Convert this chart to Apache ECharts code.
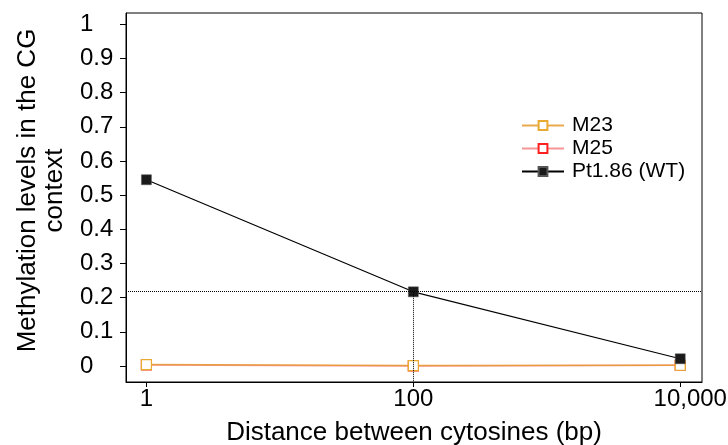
<!DOCTYPE html>
<html>
<head>
<meta charset="utf-8">
<script src="https://cdn.jsdelivr.net/npm/echarts@6/dist/echarts.min.js"></script>
<style>
  html, body { margin: 0; padding: 0; background: #fff; }
  #chart { width: 728px; height: 445px; }
</style>
</head>
<body>
<div id="chart"></div>
<script>
// distances between cytosines (bp), plotted on a log10 axis
var distances = [1, 100, 10000];
var xTickLabels = ['1', '100', '10,000'];
var yTicks = [0, 0.1, 0.2, 0.3, 0.4, 0.5, 0.6, 0.7, 0.8, 0.9, 1];

var m23 = [0.004, 0.001, 0.002];
var m25 = [0.003, 0.000, 0.002];
var wt = [0.545, 0.217, 0.021];

var FONT = 'Liberation Sans, Arial, sans-serif';
var logX = distances.map(function (d) { return Math.log10(d); });

function pairs(vals) {
    return vals.map(function (v, i) { return [logX[i], v]; });
}

var yMin = -0.047, yMax = 1.033;

var chart = echarts.init(document.getElementById('chart'));

var option = {
    animation: false,
    grid: {
        left: 126, top: 13, right: 26, bottom: 63,
        outerBoundsMode: 'none', containLabel: false,
        show: true, borderColor: '#000', borderWidth: 1
    },
    legend: {
        orient: 'vertical',
        left: 521, top: 115, padding: 0,
        itemWidth: 42, itemHeight: 11, itemGap: 2,
        textStyle: { fontFamily: FONT, fontSize: 21, color: '#000', padding: [0, 0, 0, 3] },
        data: ['M23', 'M25', 'Pt1.86 (WT)']
    },
    xAxis: {
        type: 'value',
        min: -0.153, max: 4.163,
        name: 'Distance between cytosines (bp)',
        nameLocation: 'middle', nameGap: 38,
        nameTextStyle: { fontFamily: FONT, fontSize: 26, color: '#000' },
        axisLine: { show: true, onZero: false, lineStyle: { color: '#000', width: 1 } },
        axisTick: { show: true, inside: false, length: 5, customValues: logX, lineStyle: { color: '#000' } },
        axisLabel: {
            customValues: logX, margin: 5,
            fontFamily: FONT, fontSize: 24, color: '#000',
            formatter: function (v) {
                var i = logX.findIndex(function (x) { return Math.abs(x - v) < 1e-6; });
                if (i < 0) return '';
                // last label sits pushed to the right edge in the original
                return i === logX.length - 1 ? '{r|' + xTickLabels[i] + '}' : xTickLabels[i];
            },
            rich: { r: { fontFamily: FONT, fontSize: 24, color: '#000', padding: [0, 0, 0, 20] } }
        },
        splitLine: { show: false }
    },
    yAxis: {
        type: 'value',
        min: yMin, max: yMax,
        name: 'Methylation levels in the CG\ncontext',
        nameLocation: 'middle', nameGap: 58, nameRotate: 90,
        nameTextStyle: { fontFamily: FONT, fontSize: 26, color: '#000', lineHeight: 27, align: 'center', padding: [0, 0, 0, 14] },
        axisLine: { show: true, onZero: false, lineStyle: { color: '#000', width: 1 } },
        axisTick: { show: true, inside: false, length: 6, customValues: yTicks, lineStyle: { color: '#000' } },
        axisLabel: {
            customValues: yTicks, align: 'left', margin: 46,
            fontFamily: FONT, fontSize: 24, color: '#000',
            formatter: function (v) { return String(+v.toFixed(1)); }
        },
        splitLine: { show: false }
    },
    series: [
        {
            name: 'M25', type: 'line',
            data: pairs(m25),
            symbol: 'rect', symbolSize: 10,
            lineStyle: { color: '#f05050', width: 1.5, opacity: 0.6 },
            itemStyle: { color: '#fff', borderColor: '#ff2020', borderWidth: 1.2 },
            z: 2
        },
        {
            name: 'M23', type: 'line',
            data: pairs(m23),
            symbol: 'rect', symbolSize: 10,
            lineStyle: { color: '#e89a30', width: 1.5, opacity: 0.85 },
            itemStyle: { color: '#fff', borderColor: '#e8aa30', borderWidth: 1.2 },
            z: 3
        },
        {
            name: 'Pt1.86 (WT)', type: 'line',
            data: pairs(wt),
            symbol: 'rect', symbolSize: 10,
            lineStyle: { color: '#000', width: 1.2 },
            itemStyle: { color: '#1a1a1a', borderColor: '#555', borderWidth: 0.5 },
            z: 4,
            markLine: {
                silent: true,
                symbol: 'none',
                label: { show: false },
                lineStyle: { color: '#000', type: 'dotted', width: 1 },
                data: [
                    { yAxis: wt[1] },
                    [{ coord: [logX[1], wt[1]] }, { coord: [logX[1], yMin] }]
                ]
            }
        }
    ]
};

chart.setOption(option);
</script>
</body>
</html>
